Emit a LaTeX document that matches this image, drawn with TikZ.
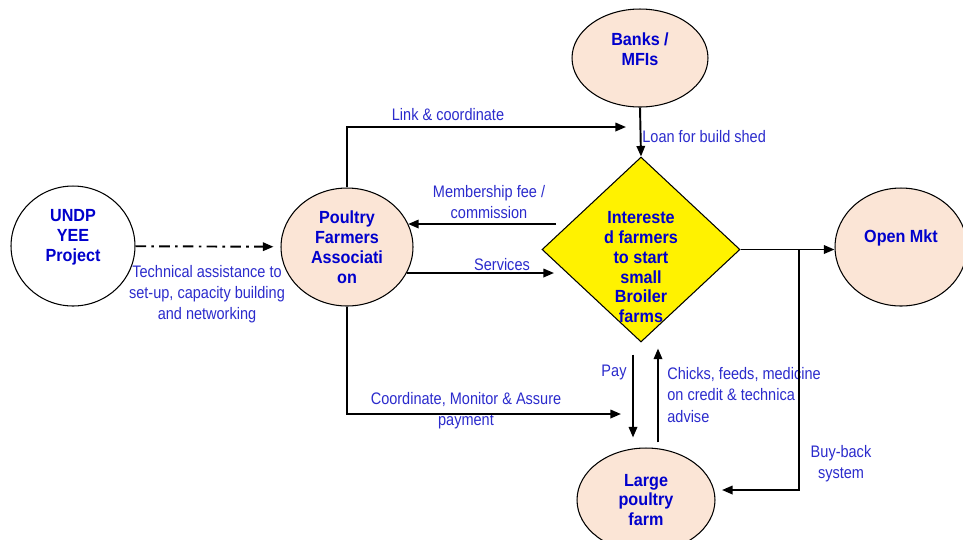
\documentclass[tikz,border=0pt]{standalone}
\usepackage{fontspec}
\setmainfont{Liberation Sans}
\newfontfamily\lblfont[FakeStretch=0.87]{Liberation Sans}
\newfontfamily\boxfont[FakeStretch=0.92]{Liberation Sans}
\usetikzlibrary{shapes.geometric,arrows.meta,calc}
\definecolor{peach}{HTML}{FBE5D6}
\definecolor{nodeblue}{HTML}{0000CC}
\definecolor{lblblue}{HTML}{2B2BCC}
% text block moved up/down without changing the node size
\newcommand{\lifted}[2]{\raisebox{#1}[0pt][0pt]{\begin{tabular}{@{}c@{}}#2\end{tabular}}}
\tikzset{
  party/.style={
    ellipse,
    draw,
    line width=0.6pt,
    fill=peach,
    inner sep=0pt,
    text=nodeblue,
    align=center,
    font=\boxfont\bfseries\fontsize{10}{11.3}\selectfont
  },
  decide/.style={
    diamond,
    draw,
    line width=0.6pt,
    fill=yellow,
    inner sep=0pt,
    text=nodeblue,
    font=\boxfont\bfseries\fontsize{10}{11.3}\selectfont
  },
  lbl/.style={
    text=lblblue,
    align=center,
    inner sep=0pt,
    font=\lblfont\fontsize{9.5}{12}\selectfont
  },
  flow/.style={
    line width=1.1pt,
    -{Triangle[length=6pt,width=4.8pt]}
  },
  dashdot/.style={
    flow,
    dash pattern=on 6pt off 3pt on 1.5pt off 3pt
  }
}
\begin{document}
\begin{tikzpicture}[x=0.02cm, y=-0.02cm]
  \useasboundingbox (0,0) rectangle (963,539);
  % actors
  \node[party, fill=white, minimum width=2.48cm, minimum height=2.4cm] (undp) at (73,246) {\lifted{2.5pt}{UNDP\\YEE\\Project}};
  \node[party, minimum width=2.64cm, minimum height=2.36cm] (pfa) at (347,247) {Poultry\\Farmers\\Associati\\on};
  \node[party, minimum width=2.72cm, minimum height=1.96cm] (bank) at (640,58) {\lifted{1.1pt}{Banks /\\MFIs}};
  \node[decide, minimum width=3.96cm, minimum height=3.7cm] (farm) at (641,249.5) {\lifted{-13.7pt}{Intereste\\d farmers\\to start\\small\\Broiler\\farms}};
  \node[party, minimum width=2.64cm, minimum height=2.36cm] (mkt) at (901,247) {\lifted{2.6pt}{Open Mkt}};
  \node[party, minimum width=2.76cm, minimum height=2.08cm] (large) at (646,500) {Large\\poultry\\farm};
  % free ends
  \coordinate (link) at (626,127);
  \coordinate (memb) at (556,224);
  \coordinate (serv) at (554,273);
  \coordinate (coord) at (621,414);
  \coordinate (bb) at (799,0);
  \coordinate (bbend) at (722,490);
  % labels
  \node[lbl] (techlbl) at (207,294) {Technical assistance to\\set-up, capacity building\\and networking};
  \node[lbl] (linklbl) at (448,115) {Link \& coordinate};
  \node[lbl, anchor=west] (loanlbl) at (642,137) {Loan for build shed};
  \node[lbl] (memblbl) at (489,202) {Membership fee /\\commission};
  \node[lbl] (servlbl) at (502,265) {Services};
  \node[lbl] (coordlbl) at (466,411) {Coordinate, Monitor \& Assure\\payment};
  \node[lbl] (paylbl) at (614,372) {Pay};
  \node[lbl, anchor=west, align=left] (inputlbl) at (667,395) {Chicks, feeds, medicine\\on credit \& technica\\advise};
  \node[lbl] (bblbl) at (841,464) {Buy-back\\system};
  % flows
  \draw[dashdot, shorten >=4pt] (undp) -- (pfa);
  \draw[flow] (pfa.north) |- (link);
  \draw[flow] (bank.south) -- (farm.north);
  \draw[flow] (memb) -- (memb -| pfa.21);
  \draw[flow] (serv -| pfa.-24) -- (serv);
  \draw[flow] (farm.east) -- (farm.east -| mkt.west);
  \draw[flow] (bb |- farm.east) |- (bbend);
  \draw[flow] (pfa.south) |- (coord);
  \draw[flow] ($(farm.south)+(-8,12)$) -- ($(large.north)+(-13,-10)$);
  \draw[flow] ($(large.north)+(12,-5)$) -- ($(farm.south)+(17,6)$);
\end{tikzpicture}
\end{document}
